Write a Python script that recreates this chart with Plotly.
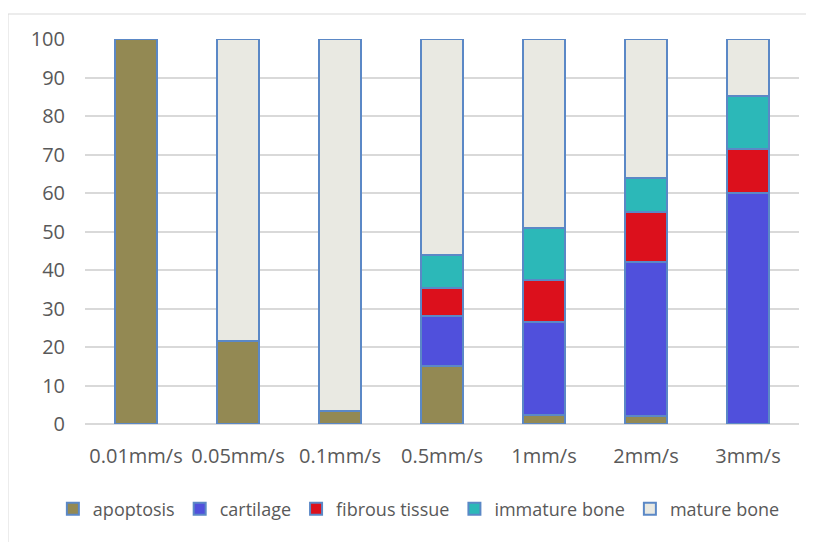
import plotly.graph_objects as go

categories = ["0.01mm/s", "0.05mm/s", "0.1mm/s", "0.5mm/s", "1mm/s", "2mm/s", "3mm/s"]
apoptosis = [100, 21.5, 3.5, 15, 2.3, 2.1, None]
cartilage = [None, None, None, 13, 24.3, 40.1, 60]
fibrous_tissue = [None, None, None, 7.2, 10.8, 12.8, 11.4]
immature_bone = [None, None, None, 8.8, 13.6, 9.0, 13.7]
mature_bone = [None, 78.5, 96.5, 56.0, 49.0, 36.0, 14.9]

series = [
    ("apoptosis", apoptosis, "#938953"),
    ("cartilage", cartilage, "#5050DC"),
    ("fibrous tissue", fibrous_tissue, "#DC101C"),
    ("immature bone", immature_bone, "#2CB8B8"),
    ("mature bone", mature_bone, "#E9E9E2"),
]

fig = go.Figure()
for name, vals, color in series:
    fig.add_trace(go.Bar(
        x=categories, y=vals, name=name, width=0.41,
        marker=dict(color=color, line=dict(color="#5B88C6", width=2)),
    ))

font_family = "'Open Sans', sans-serif"
fig.update_layout(
    barmode="stack",
    width=814, height=542,
    margin=dict(l=77, r=23, t=31, b=126, autoexpand=False),
    paper_bgcolor="white", plot_bgcolor="white",
    font=dict(family=font_family, size=20, color="#595959"),
    xaxis=dict(showgrid=False, showline=False, ticks="", ticklabelstandoff=18,
               tickfont=dict(size=20, color="#595959")),
    yaxis=dict(range=[0, 100], dtick=10, showgrid=True, gridcolor="#D9D9D9", gridwidth=1.7,
               zeroline=True, zerolinecolor="#D9D9D9", zerolinewidth=1.7,
               showline=False, ticks="", ticklabelstandoff=19,
               tickfont=dict(size=20, color="#595959")),
    legend=dict(orientation="h", x=-0.045, xanchor="left",
                y=-0.221, yanchor="middle",
                font=dict(size=18, color="#595959"), traceorder="normal",
                itemwidth=30, tracegroupgap=0),
    showlegend=True,
    shapes=[dict(type="rect", xref="paper", yref="paper",
                 x0=-0.108, x1=1.04, y0=-0.4, y1=1.065,
                 line=dict(color="#D9D9D9", width=1.2), fillcolor="rgba(0,0,0,0)", layer="below")],
)

fig.write_html("out.html")
